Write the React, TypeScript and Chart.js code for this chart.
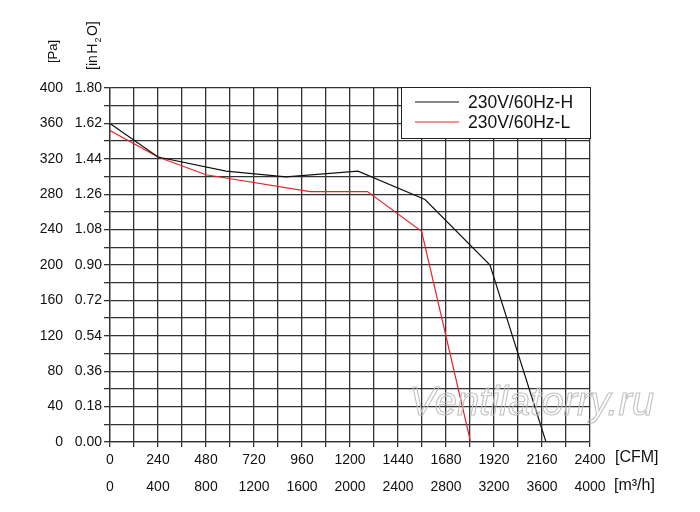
import React, { useEffect, useRef } from 'react';
import Chart from 'chart.js/auto';

// values
const seriesLabels = ['230V/60Hz-H', '230V/60Hz-L'];
const highFlow = [0, 240, 580, 880, 1240, 1575, 1900, 2180];
const highPressure = [360, 322, 306, 299.5, 306, 274, 200, 0];
const lowFlow = [0, 240, 480, 1000, 1287, 1558, 1803];
const lowPressure = [352, 322, 302, 283, 283, 238, 0];

const cfmTicks = ['0', '240', '480', '720', '960', '1200', '1440', '1680', '1920', '2160', '2400'];
const m3hTicks = ['0', '400', '800', '1200', '1600', '2000', '2400', '2800', '3200', '3600', '4000'];
const paTicks = ['0', '40', '80', '120', '160', '200', '240', '280', '320', '360', '400'];
const inH2OTicks = ['0.00', '0.18', '0.36', '0.54', '0.72', '0.90', '1.08', '1.26', '1.44', '1.62', '1.80'];

const FONT = '"Liberation Sans", Arial, sans-serif';
const TXT = '#111';
const GRID = '#333';

const overlay = {
  id: 'overlay',
  afterDatasetsDraw(chart: any) {
    const { ctx, chartArea } = chart;
    // watermark
    ctx.save();
    ctx.font = `italic 40px ${FONT}`;
    ctx.textAlign = 'right';
    ctx.textBaseline = 'alphabetic';
    ctx.strokeStyle = 'rgba(190,190,190,0.95)';
    ctx.lineWidth = 1.1;
    ctx.strokeText('Ventilatorry.ru', chartArea.right + 64, chartArea.bottom - 27);
    ctx.restore();
  },
  afterDraw(chart: any) {
    const { ctx, chartArea } = chart;
    ctx.save();
    ctx.fillStyle = TXT;

    // rotated unit titles
    ctx.save();
    ctx.translate(57, 63);
    ctx.rotate(-Math.PI / 2);
    ctx.font = `13px ${FONT}`;
    ctx.textAlign = 'left';
    ctx.textBaseline = 'alphabetic';
    ctx.fillText('[Pa]', 0, 0);
    ctx.restore();

    ctx.save();
    ctx.translate(97, 70);
    ctx.rotate(-Math.PI / 2);
    ctx.textAlign = 'left';
    ctx.textBaseline = 'alphabetic';
    ctx.font = `14px ${FONT}`;
    let px = 0;
    ctx.fillText('[in', px, 0);
    px += ctx.measureText('[in').width + 1.5;
    ctx.fillText('H', px, 0);
    px += ctx.measureText('H').width + 1;
    ctx.font = `9px ${FONT}`;
    ctx.fillText('2', px, 4);
    px += ctx.measureText('2').width + 1.5;
    ctx.font = `14px ${FONT}`;
    ctx.fillText('O]', px, 0);
    ctx.restore();

    // x unit titles
    ctx.font = `16px ${FONT}`;
    ctx.textAlign = 'left';
    ctx.textBaseline = 'middle';
    ctx.fillText('[CFM]', chartArea.right + 25, chartArea.bottom + 16);
    ctx.fillText('[m\u00B3/h]', chartArea.right + 24, chartArea.bottom + 44);

    // legend box
    const bw = 189;
    const bh = 51;
    const bx = chartArea.right - bw;
    const by = chartArea.top - 1;
    ctx.fillStyle = '#fff';
    ctx.fillRect(bx, by, bw, bh);
    ctx.strokeStyle = '#222';
    ctx.lineWidth = 1;
    ctx.strokeRect(bx + 0.5, by + 0.5, bw, bh);
    ctx.font = `17.5px ${FONT}`;
    ctx.textBaseline = 'middle';
    chart.data.datasets.forEach((ds: any, i: number) => {
      const ly = by + 15 + i * 20;
      ctx.strokeStyle = ds.borderColor;
      ctx.lineWidth = 1.2;
      ctx.beginPath();
      ctx.moveTo(bx + 14, ly);
      ctx.lineTo(bx + 58, ly);
      ctx.stroke();
      ctx.fillStyle = TXT;
      ctx.fillText(ds.label, bx + 67, ly + 1);
    });
    ctx.restore();
  },
};

const App = () => {
  const canvasRef = useRef<HTMLCanvasElement>(null);
  const chartRef = useRef<Chart>();

  useEffect(() => {
    if (!canvasRef.current) return;
    const ctx = canvasRef.current.getContext('2d');
    if (!ctx) return;
    if (chartRef.current) chartRef.current.destroy();

    const tickFont = { family: FONT, size: 14 };

    chartRef.current = new Chart(ctx, {
      type: 'line',
      data: {
        datasets: [
          {
            label: seriesLabels[0],
            data: highFlow.map((x, i) => ({ x, y: highPressure[i] })),
            borderColor: '#111111',
            borderWidth: 1.2,
            pointRadius: 0,
            tension: 0,
            xAxisID: 'x',
            yAxisID: 'y',
          },
          {
            label: seriesLabels[1],
            data: lowFlow.map((x, i) => ({ x, y: lowPressure[i] })),
            borderColor: '#e3262b',
            borderWidth: 1.2,
            pointRadius: 0,
            tension: 0,
            xAxisID: 'x',
            yAxisID: 'y',
          },
        ],
      },
      options: {
        animation: false,
        responsive: false,
        devicePixelRatio: 1,
        layout: { padding: { left: 0, right: 110, top: 88, bottom: 10 } },
        plugins: {
          legend: { display: false },
          tooltip: { enabled: false },
        },
        scales: {
          x: {
            type: 'linear',
            position: 'bottom',
            min: 0,
            max: 2400,
            weight: 0,
            grid: { color: GRID, lineWidth: 1.3, tickLength: 5 },
            border: { color: GRID, width: 1.3 },
            ticks: {
              stepSize: 120,
              autoSkip: false,
              maxRotation: 0,
              padding: 5,
              color: TXT,
              font: tickFont,
              callback: (_v: any, i: number) => (i % 2 === 0 ? cfmTicks[i / 2] : ''),
            },
            afterFit: (s: any) => {
              s.height = 30;
            },
          },
          x2: {
            type: 'linear',
            position: 'bottom',
            min: 0,
            max: 4000,
            weight: 1,
            grid: { display: false, drawTicks: false },
            border: { display: false },
            ticks: {
              stepSize: 400,
              autoSkip: false,
              maxRotation: 0,
              padding: 7,
              color: TXT,
              font: tickFont,
              callback: (_v: any, i: number) => m3hTicks[i],
            },
            afterFit: (s: any) => {
              s.height = 30;
            },
          },
          y: {
            type: 'linear',
            position: 'left',
            min: 0,
            max: 400,
            weight: 0,
            grid: { color: GRID, lineWidth: 1.3, tickLength: 6 },
            border: { color: GRID, width: 1.3 },
            ticks: {
              stepSize: 20,
              autoSkip: false,
              padding: 2,
              color: TXT,
              font: tickFont,
              callback: (_v: any, i: number) => (i % 2 === 0 ? inH2OTicks[i / 2] : ''),
            },
            afterFit: (s: any) => {
              s.width = 40;
            },
          },
          y2: {
            type: 'linear',
            position: 'left',
            min: 0,
            max: 400,
            weight: 1,
            grid: { display: false, drawTicks: false },
            border: { display: false },
            ticks: {
              stepSize: 40,
              autoSkip: false,
              padding: 7,
              color: TXT,
              font: tickFont,
              callback: (_v: any, i: number) => paTicks[i],
            },
            afterFit: (s: any) => {
              s.width = 70;
            },
          },
        },
      },
      plugins: [overlay],
    });

    return () => {
      if (chartRef.current) {
        chartRef.current.destroy();
        chartRef.current = undefined;
      }
    };
  }, []);

  return (
    <div style={{ position: 'fixed', left: 0, top: 0, width: 700, height: 512, background: '#fff' }}>
      <canvas ref={canvasRef} width={700} height={512} style={{ width: 700, height: 512 }} />
    </div>
  );
};

export default App;
